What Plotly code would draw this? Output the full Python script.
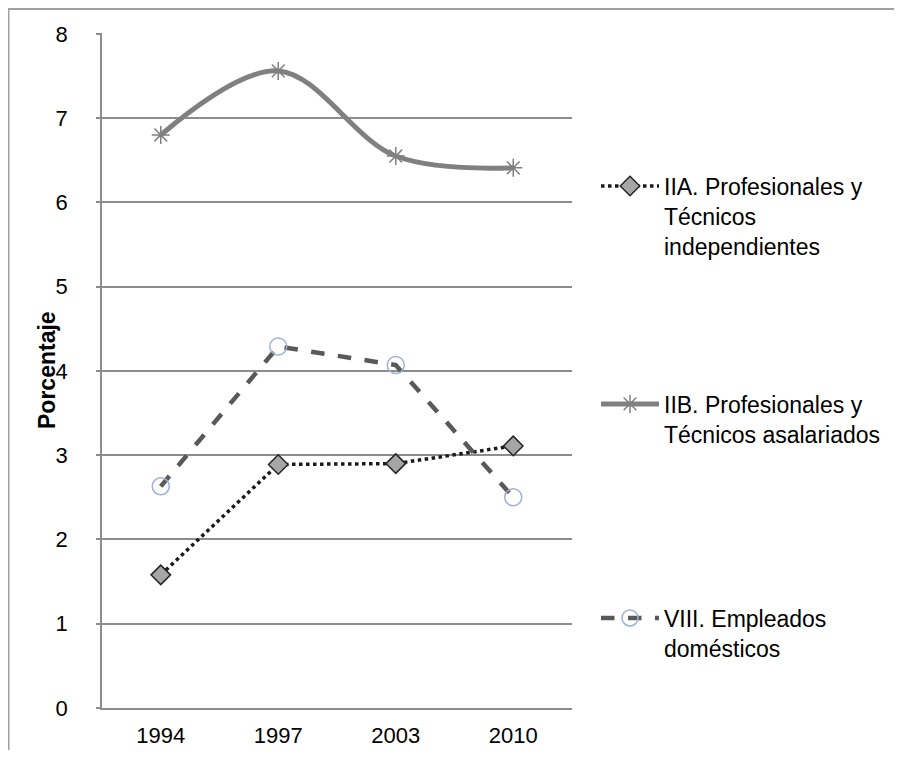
import plotly.graph_objects as go

years = ["1994", "1997", "2003", "2010"]
iia_vals = [1.58, 2.89, 2.90, 3.11]
iib_vals = [6.80, 7.56, 6.55, 6.41]
viii_vals = [2.63, 4.29, 4.07, 2.50]
y_ticks = [0, 1, 2, 3, 4, 5, 6, 7, 8]

names = [
    "IIA. Profesionales y<br>Técnicos<br>independientes",
    "IIB. Profesionales y<br>Técnicos asalariados",
    "VIII. Empleados<br>domésticos",
]

# the plot div sits 8px in from the page corner (default body margin);
# size the figure so the page does not overflow the 902x758 window
OFF = 8
W, H = 902 - OFF, 758 - 2 * OFF
L, T = 102 - OFF, 33 - OFF
R = W - (572 - OFF)
B = H - (708 - OFF)
pw, ph = W - L - R, H - T - B

def px_x(px):
    return (px - OFF - L) / pw

def px_y(py):
    return (H - B - (py - OFF)) / ph

fig = go.Figure()

fig.add_trace(go.Scatter(
    x=years, y=iia_vals, name=names[0], mode="lines+markers",
    line=dict(color="#1a1a1a", width=3.5, dash="dot"),
    marker=dict(symbol="diamond", size=15, color="#a6a6a6",
                line=dict(color="#262626", width=1.5)),
    legend="legend",
))
fig.add_trace(go.Scatter(
    x=years, y=iib_vals, name=names[1], mode="lines+markers",
    line=dict(color="#808080", width=5, shape="spline", smoothing=1),
    marker=dict(symbol="asterisk-open", size=15, color="#808080",
                line=dict(color="#808080", width=1.5)),
    legend="legend2",
))
fig.add_trace(go.Scatter(
    x=years, y=viii_vals, name=names[2], mode="lines+markers",
    line=dict(color="#595959", width=4.5, dash="dash"),
    marker=dict(symbol="circle-open", size=17, color="#9bb1d6",
                line=dict(color="#9bb1d6", width=1.5)),
    legend="legend3",
))

font = dict(family="Liberation Sans, Arial, sans-serif", size=22, color="#000000")
lfont = dict(family="Liberation Sans, Arial, sans-serif", size=23, color="#000000")

leg_common = dict(
    font=lfont, bgcolor="rgba(0,0,0,0)", borderwidth=0,
    xanchor="left", yanchor="top", valign="top", itemwidth=58,
    itemclick=False, itemdoubleclick=False,
)

fig.update_layout(
    width=W, height=H,
    margin=dict(l=L, r=R, t=T, b=B, pad=0, autoexpand=False),
    paper_bgcolor="white", plot_bgcolor="white",
    font=font,
    showlegend=True,
    legend=dict(x=px_x(596), y=px_y(164.5), **leg_common),
    legend2=dict(x=px_x(596), y=px_y(382.5), **leg_common),
    legend3=dict(x=px_x(596), y=px_y(596.5), **leg_common),
    xaxis=dict(
        type="category", categoryorder="array", categoryarray=years,
        range=[-0.5, 3.5], showgrid=False, zeroline=False, automargin=False,
        showline=True, linecolor="#8c8c8c", linewidth=1.5,
        ticks="", tickfont=font, ticklabelstandoff=7,
    ),
    yaxis=dict(
        range=[0, 8.01], tickvals=y_ticks, ticktext=[str(v) for v in y_ticks],
        showgrid=True, gridcolor="#8c8c8c", gridwidth=1.5, automargin=False,
        zeroline=False, showline=True, linecolor="#8c8c8c", linewidth=1.5,
        ticks="outside", ticklen=4, tickcolor="#8c8c8c", tickwidth=1.5,
        tickfont=font, ticklabelstandoff=24,
    ),
    annotations=[dict(
        text="<b>Porcentaje</b>", xref="paper", yref="paper",
        x=px_x(47), y=px_y(370), xanchor="center", yanchor="middle",
        textangle=-90, showarrow=False,
        font=dict(family="Liberation Sans, Arial, sans-serif", size=23, color="#000000"),
    )],
    shapes=[dict(
        type="path", xref="paper", yref="paper",
        path=f"M {px_x(8.5)},{px_y(775)} L {px_x(8.5)},{px_y(9)} L {px_x(915)},{px_y(9)}",
        line=dict(color="#a0a0a0", width=2),
    )],
)

fig.write_html("out.html")
